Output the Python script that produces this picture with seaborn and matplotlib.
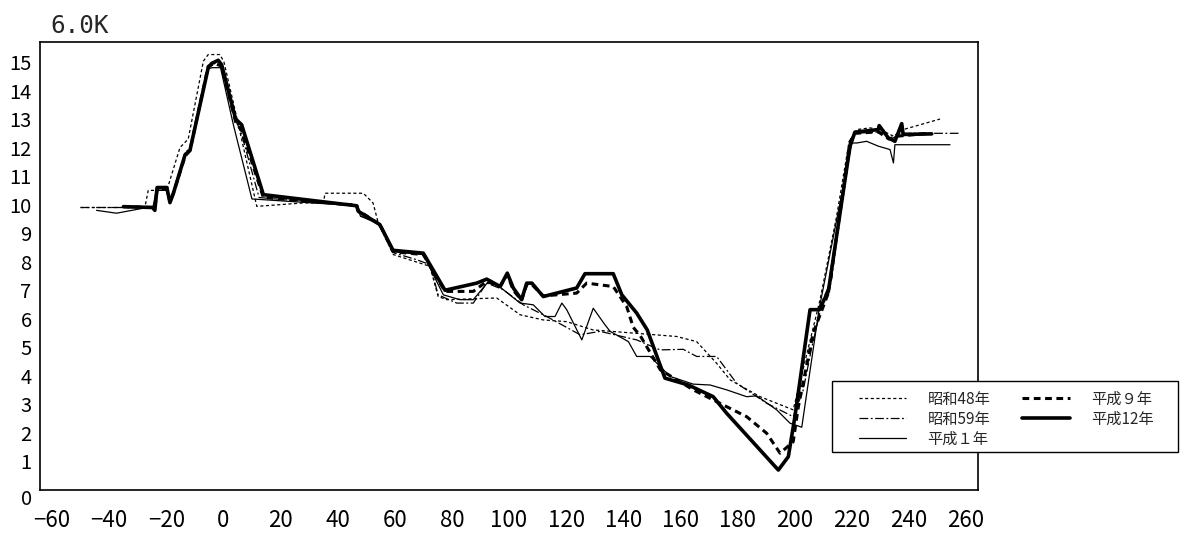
import numpy as np
import pandas as pd
import matplotlib
matplotlib.use("Agg")
import matplotlib.pyplot as plt
import matplotlib.transforms as mtransforms
from matplotlib.patches import Rectangle
import seaborn as sns

# series
s48_x = [-50, -27.5, -26.3, -19.8, -15.2, -12.3, -7, -5.3, -1.2, 0.2, 3.5, 11.7, 28, 35, 35.6, 49, 52.4, 54.2,
         59.5, 72.3, 75.2, 78.2, 95.7, 103.9, 112, 120.2, 129.4, 158.7, 165.7, 172.7, 177.4, 187.9, 199.5,
         208.9, 214.7, 218.8, 221.7, 226.4, 230, 234.6, 238, 250.9]
s48_y = [9.9, 9.9, 10.5, 10.5, 12.0, 12.3, 15.03, 15.26, 15.26, 15.0, 13.57, 9.94, 10.06, 10.06, 10.4, 10.4, 10.06, 9.37,
         8.25, 7.84, 6.78, 6.67, 6.73, 6.14, 5.96, 5.9, 5.61, 5.38, 5.2, 4.44, 3.86, 3.27, 2.81,
         6.67, 9.59, 12.05, 12.63, 12.69, 12.63, 12.4, 12.63, 13.0]

s59_x = [-50, -25, -24, -23, -20, -18.7, -17.5, -13.5, -11.7, -5.5, -3, -0.5, 4, 6, 12.5, 46.7, 48, 53.7,
         60, 67.7, 72.3, 75.2, 81.7, 87.5, 92.2, 98, 105, 113.2, 124.9, 131.9, 144.7, 152.9, 161, 165.7,
         172.7, 179.7, 190.2, 199.5, 203, 206, 210, 213, 219, 221, 230, 234, 237, 258]
s59_y = [9.9, 9.9, 9.85, 10.5, 10.5, 10.1, 10.4, 11.8, 12.0, 14.8, 14.95, 14.85, 13.0, 12.6, 10.25, 9.96, 9.6, 9.4,
         8.3, 8.07, 7.9, 6.84, 6.55, 6.55, 7.25, 7.02, 6.49, 6.08, 5.44, 5.56, 5.26, 4.91, 4.93, 4.68,
         4.68, 3.74, 3.04, 2.57, 3.5, 5.0, 6.7, 7.4, 12.2, 12.5, 12.55, 12.3, 12.5, 12.5]

h1_x = [-44.4, -37.4, -24.6, -23.5, -20, -18.7, -17.5, -13.5, -11.7, -5.5, -4, -1, 3.5, 10, 46.7, 48, 54.8,
        59.4, 70, 77, 82.8, 87.5, 93.3, 98, 103.9, 108.5, 112.6, 116.1, 118.5, 120.2, 125.5, 129.5, 133.6,
        135.4, 141.8, 144.7, 149.4, 152.9, 156.4, 164.5, 170.4, 176.2, 183.2, 186.7, 193.7, 198.4, 202.5,
        208.5, 220, 221.7, 225.2, 229.3, 233.4, 234.6, 235.1, 254.4]
h1_y = [9.8, 9.7, 9.94, 10.5, 10.5, 10.1, 10.35, 11.7, 11.9, 14.75, 14.8, 14.8, 12.8, 10.2, 9.96, 9.6, 9.3,
        8.35, 8.25, 6.84, 6.67, 6.67, 7.37, 7.02, 6.55, 6.49, 6.08, 6.08, 6.55, 6.32, 5.26, 6.37, 5.79,
        5.56, 5.2, 4.68, 4.68, 4.33, 3.98, 3.71, 3.68, 3.51, 3.27, 3.3, 2.81, 2.34, 2.2,
        6.3, 12.16, 12.16, 12.22, 12.05, 11.93, 11.46, 12.1, 12.1]

h9_x = [-35, -24.8, -24, -23.2, -19.8, -18.7, -17.5, -13.4, -11.7, -5.3, -3, -0.6, 4.3, 6.4, 14, 46.7, 47.2,
        54.8, 59.4, 70, 77.6, 87.5, 92.2, 96.9, 99.4, 101.5, 104.4, 106.2, 108, 112, 123.7, 127.2, 136.5,
        141.2, 143.5, 146, 153, 164.5, 176.2, 183.2, 190.2, 194.9, 199.5, 201.3, 206.5, 211.8, 219.5, 221.1,
        229.3, 233, 236, 247]
h9_y = [9.93, 9.9, 9.85, 10.55, 10.55, 10.1, 10.4, 11.7, 11.9, 14.85, 14.95, 14.85, 12.9, 12.6, 10.25, 9.98, 9.8,
        9.3, 8.35, 8.25, 6.96, 6.96, 7.31, 7.13, 7.55, 7.0, 6.65, 7.2, 7.2, 6.8, 6.9, 7.25, 7.13,
        6.43, 5.7, 5.4, 4.21, 3.51, 2.92, 2.57, 1.99, 1.29, 1.69, 2.92, 5.5, 6.9, 12.2, 12.5,
        12.55, 12.3, 12.4, 12.5]

h12_x = [-35, -24.8, -24, -23.2, -19.8, -18.7, -17.5, -13.4, -11.7, -5.3, -4.1, -1.8, -0.6, 4.3, 6.4, 14,
         46.7, 47.2, 54.8, 59.4, 70, 77.6, 88.7, 92.2, 96.9, 99.4, 101.5, 104.4, 106.2, 108, 112, 123.7,
         126.6, 136.5, 139.5, 144.7, 148.4, 154.6, 162.8, 171.5, 176.2, 194.3, 197.8, 200.1, 205.4, 208.6,
         211.8, 219.4, 221.1, 229.3, 229.6, 232.8, 235.1, 237.5, 238, 248]
h12_y = [9.93, 9.9, 9.8, 10.6, 10.6, 10.07, 10.4, 11.75, 11.9, 14.8, 14.95, 15.06, 14.9, 13.0, 12.8, 10.35,
         9.96, 9.77, 9.3, 8.4, 8.3, 7.0, 7.25, 7.39, 7.13, 7.6, 7.08, 6.67, 7.25, 7.25, 6.78, 7.08,
         7.58, 7.58, 6.84, 6.2, 5.61, 3.92, 3.68, 3.27, 2.69, 0.7, 1.17, 2.57, 6.32, 6.32,
         6.96, 12.05, 12.54, 12.63, 12.77, 12.34, 12.22, 12.84, 12.46, 12.48]

labels = ["昭和48年", "昭和59年", "平成１年", "平成９年", "平成12年"]
xs = [s48_x, s59_x, h1_x, h9_x, h12_x]
ys = [s48_y, s59_y, h1_y, h9_y, h12_y]
widths = [0.9, 0.9, 0.9, 2.2, 2.6]
styles = [(0, (2.5, 2)), (0, (7, 2, 1.5, 2)), "-", (0, (2.2, 1.5)), "-"]

sns.set_style("white")
plt.rcParams["font.family"] = ["Noto Sans CJK JP", "DejaVu Sans"]

fig = plt.figure(figsize=(11.88, 5.35), dpi=100)
ax = fig.add_axes([40 / 1188, 1 - 490 / 535, (978 - 40) / 1188, (490 - 42) / 535])

for x, y, lab, lw, ls in zip(xs, ys, labels, widths, styles):
    df = pd.DataFrame({"x": x, "y": y})
    sns.lineplot(data=df, x="x", y="y", ax=ax, color="black", lw=lw, linestyle=ls,
                 sort=False, estimator=None, label=lab, legend=False)

ax.set_xlim(-64.2, 264.2)
ax.set_ylim(0, 15.7)
ax.set_xticks(np.arange(-60, 261, 20))
ax.set_yticks(np.arange(0, 16, 1))
ax.set_xlabel("")
ax.set_ylabel("")
ax.tick_params(direction="in", length=6, width=1, colors="black")
ax.tick_params(axis="x", labelsize=16, pad=14)
ax.tick_params(axis="y", labelsize=14.5, pad=6)
for sp in ax.spines.values():
    sp.set_color("black")
    sp.set_linewidth(1.2)

# the "0" label sits a little below its tick in the original
fig.canvas.draw()
ylabs = ax.get_yticklabels()
ylabs[0].set_transform(ylabs[0].get_transform() +
                       mtransforms.ScaledTranslation(0, -5 / 72, fig.dpi_scale_trans))

fig.text(50 / 1188, 1 - 33 / 535, "6.0K", fontsize=17.5, va="baseline", ha="left",
         family="DejaVu Sans Mono")

# legend box
fig.add_artist(Rectangle((832 / 1188, 1 - 452 / 535), (1178 - 832) / 1188, 71 / 535,
                         transform=fig.transFigure, facecolor="white", edgecolor="black",
                         lw=1, zorder=4))
handles, labs = ax.get_legend_handles_labels()
leg = fig.legend(handles, labs, ncol=2, loc="upper left", bbox_to_anchor=(851 / 1188, 1 - 383 / 535),
                 frameon=False, fontsize=11, handlelength=3.1, handletextpad=1.4,
                 columnspacing=2.1, labelspacing=0.2, borderpad=0)
leg.set_zorder(5)

fig.savefig("out.png", dpi=100)
